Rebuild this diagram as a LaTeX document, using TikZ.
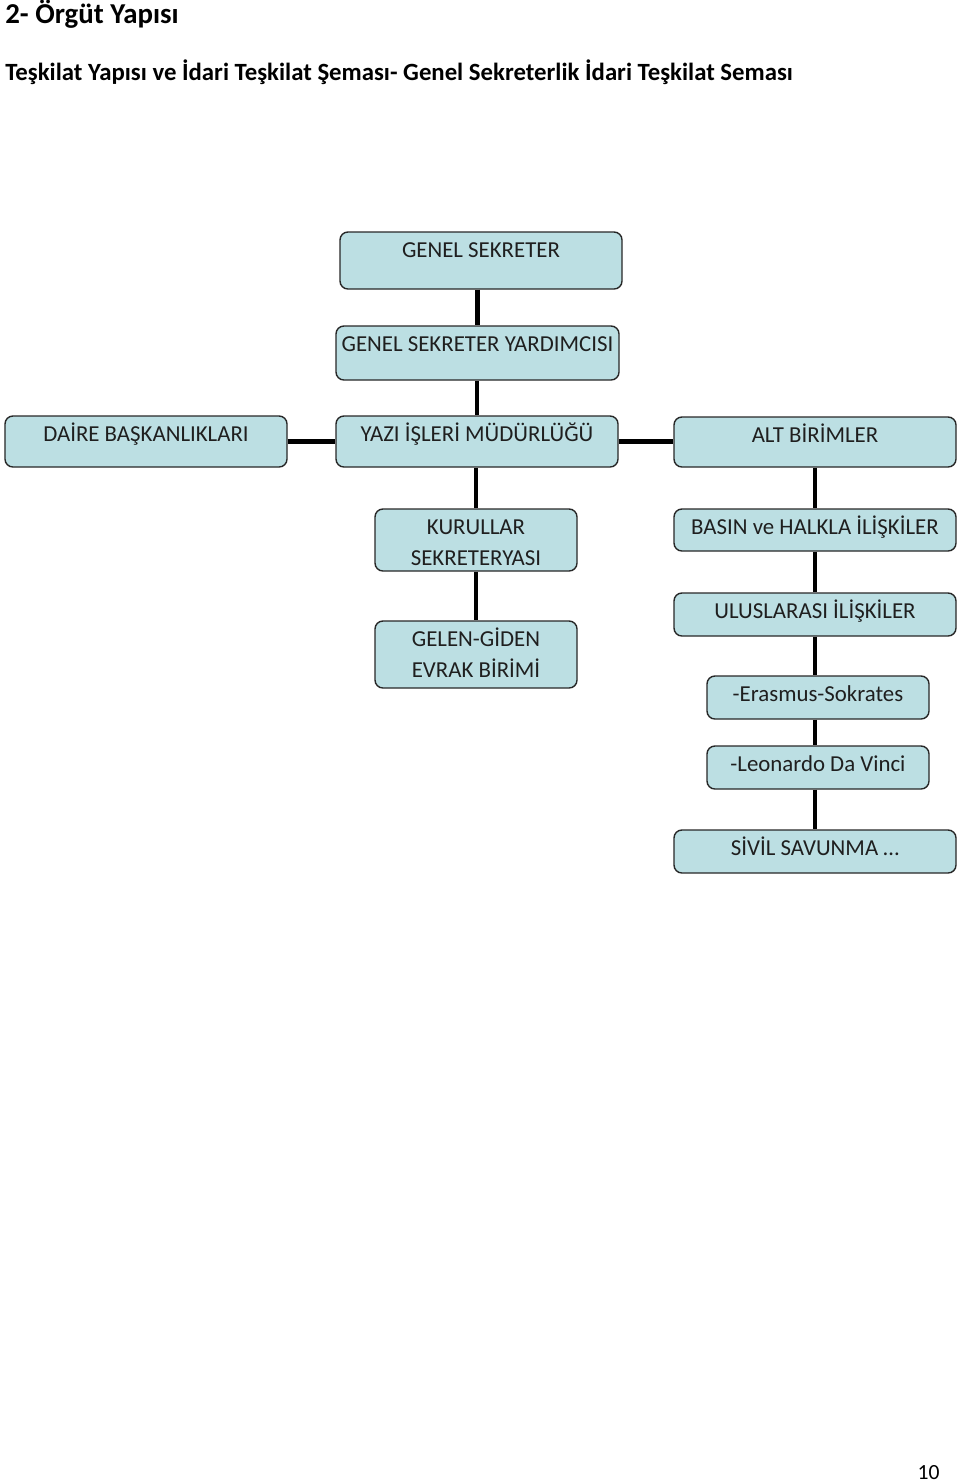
\documentclass[tikz,border=0pt]{standalone}
\usepackage{fontspec}
\setmainfont{Carlito}
\usepackage{tikz}
\usetikzlibrary{calc}
\definecolor{boxfill}{RGB}{188,223,227}
\definecolor{boxline}{RGB}{40,40,40}
\tikzstyle{orgbox} = [rectangle, 
rounded corners=4.5pt, 
inner sep=0pt, 
minimum width=5.64cm, 
text height=0.5cm, 
draw=boxline, 
line width=0.8pt, 
fill=boxfill, 
text=black!88, 
font=\fontsize{13}{18.2}\selectfont]
\tikzstyle{orgline} = [line width=2.3pt, black]
\tikzstyle{heading} = [inner sep=0pt, anchor=base west]

\begin{document}
\begin{tikzpicture}
    \fill[white] (0,0) rectangle (19.2,-29.64);
    \useasboundingbox (0,0) rectangle (19.2,-29.64);

    % Headings
    \node (title) [heading, font=\bfseries\fontsize{16.4}{19}\selectfont] at (0.1,-0.46) {2- Örgüt Yapısı};
    \node (subtitle) [heading, font=\bfseries\fontsize{14.1}{17}\selectfont] at (0.1,-1.60) {Teşkilat Yapısı ve İdari Teşkilat Şeması- Genel Sekreterlik İdari Teşkilat Seması};

    % Top levels
    \node (gs) [orgbox, xshift=9.62cm, yshift=-5.21cm, text depth=0.64cm] {GENEL SEKRETER};
    \node (gsy) [orgbox, xshift=9.55cm, yshift=-7.06cm, minimum width=5.66cm, text depth=0.58cm] {GENEL SEKRETER YARDIMCISI};

    \node (daire) [orgbox, xshift=2.92cm, yshift=-8.83cm, text depth=0.52cm] {DAİRE BAŞKANLIKLARI};
    \node (yazi) [orgbox, xshift=9.54cm, yshift=-8.83cm, text depth=0.52cm] {YAZI İŞLERİ MÜDÜRLÜĞÜ};
    \node (alt) [orgbox, xshift=16.30cm, yshift=-8.84cm, text depth=0.50cm] {ALT BİRİMLER};

    % Under Yazi Isleri
    \node (kurul) [orgbox, xshift=9.52cm, yshift=-10.80cm, minimum width=4.04cm, text depth=0.74cm]
        {\begin{tabular}[t]{@{}c@{}}KURULLAR\\SEKRETERYASI\end{tabular}};
    \node (gelen) [orgbox, xshift=9.52cm, yshift=-13.09cm, minimum width=4.04cm, text depth=0.84cm]
        {\begin{tabular}[t]{@{}c@{}}GELEN-GİDEN\\EVRAK BİRİMİ\end{tabular}};

    % Under Alt Birimler
    \node (basin) [orgbox, xshift=16.30cm, yshift=-10.60cm, text depth=0.34cm] {BASIN ve HALKLA İLİŞKİLER};
    \node (ulus) [orgbox, xshift=16.30cm, yshift=-12.29cm, text depth=0.36cm] {ULUSLARASI İLİŞKİLER};
    \node (erasmus) [orgbox, xshift=16.36cm, yshift=-13.95cm, minimum width=4.44cm, text depth=0.36cm] {-Erasmus-Sokrates};
    \node (leonardo) [orgbox, xshift=16.36cm, yshift=-15.35cm, minimum width=4.44cm, text depth=0.36cm] {-Leonardo Da Vinci};
    \node (sivil) [orgbox, xshift=16.30cm, yshift=-17.03cm, text depth=0.36cm] {SİVİL SAVUNMA …};

    % Connectors
    \draw [orgline] (gsy.north |- gs.south) -- (gsy.north);
    \draw [orgline] (yazi.north |- gsy.south) -- (yazi.north);
    \draw [orgline] (daire.east) -- (yazi.west);
    \draw [orgline] (yazi.east) -- (yazi.east -| alt.west);
    \draw [orgline] (kurul.north |- yazi.south) -- (kurul.north);
    \draw [orgline] (kurul.south) -- (gelen.north);
    \draw [orgline] (basin.north |- alt.south) -- (basin.north);
    \draw [orgline] (basin.south) -- (ulus.north);
    \draw [orgline] (ulus.south) -- (ulus.south |- erasmus.north);
    \draw [orgline] (ulus.south |- erasmus.south) -- (ulus.south |- leonardo.north);
    \draw [orgline] (sivil.north |- leonardo.south) -- (sivil.north);

    % Page number
    \node (pageno) [inner sep=0pt, anchor=base east, font=\fontsize{12.3}{14}\selectfont] at (18.8,-29.58) {10};
\end{tikzpicture}
\end{document}
